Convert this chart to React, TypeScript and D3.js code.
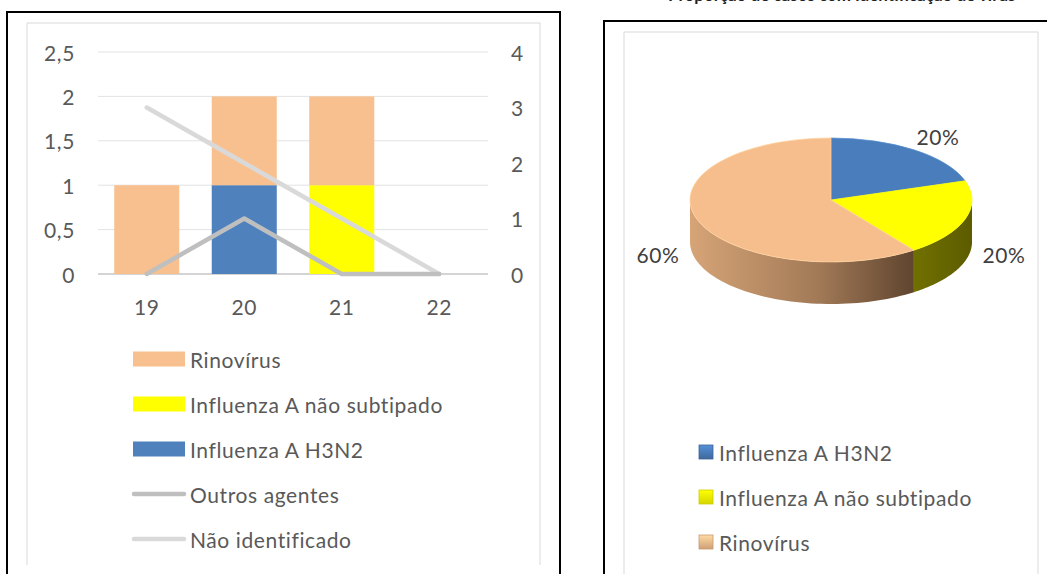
import React from 'react';
import * as d3 from 'd3';

const weeks = ['19', '20', '21', '22'];
const rinovirus = [1, 1, 1, 0];
const influenzaNaoSub = [0, 0, 1, 0];
const influenzaH3N2 = [0, 1, 0, 0];
const outrosAgentes = [0, 1, 0, 0];
const naoIdentificado = [3, 2, 1, 0];
const leftTicks = [0, 0.5, 1, 1.5, 2, 2.5];
const rightTicks = [0, 1, 2, 3, 4];

const pieLabels = ['Influenza A H3N2', 'Influenza A não subtipado', 'Rinovírus'];
const pieValues = [1, 1, 3];
const piePercents = ['20%', '20%', '60%'];

const barLegend = [
  { name: 'Rinovírus', kind: 'bar', color: '#f9c08f' },
  { name: 'Influenza A não subtipado', kind: 'bar', color: '#ffff00' },
  { name: 'Influenza A H3N2', kind: 'bar', color: '#4f81bd' },
  { name: 'Outros agentes', kind: 'line', color: '#bfbfbf' },
  { name: 'Não identificado', kind: 'line', color: '#d9d9d9' },
];

const FONT = 'Lato, "Open Sans", sans-serif';
const TXT = '#595959';
const FS = 21;
const LS = 0.6;

export default function App() {
  // ---------- left chart ----------
  const x = d3.scaleBand<string>().domain(weeks).range([98, 488]).paddingInner(0.333).paddingOuter(0.1665);
  const yL = d3.scaleLinear().domain([0, 2.5]).range([274, 52]);
  const yR = d3.scaleLinear().domain([0, 4]).range([274, 52]);

  const rows = weeks.map((w, i) => ({ week: w, h3n2: influenzaH3N2[i], naoSub: influenzaNaoSub[i], rino: rinovirus[i] }));
  const stack = d3.stack<any>().keys(['h3n2', 'naoSub', 'rino'])(rows);
  const stackColors: Record<string, string> = { h3n2: '#4f81bd', naoSub: '#ffff00', rino: '#f9c08f' };

  const cx = (w: string) => (x(w) as number) + x.bandwidth() / 2;
  const line = d3.line<number>().x((_, i) => cx(weeks[i])).y((d) => yR(d));

  const fmt = (v: number) => String(v).replace('.', ',');

  // ---------- pie ----------
  const pcx = 831, pcy = 200, rx = 141, ry = 62, depth = 42;
  const pie = d3.pie<number>().sort(null)(pieValues);
  const arc = d3.arc<any>().innerRadius(0).outerRadius(rx);
  const topColors = ['#4a7dbb', '#ffff00', '#f7be8d'];
  const sideFills = ['#2f4f78', 'url(#ySide)', 'url(#rSide)'];

  const sidePath = (a0: number, a1: number) => {
    const s = Math.max(a0, Math.PI / 2);
    const e = Math.min(a1, (3 * Math.PI) / 2);
    if (s >= e) return null;
    const n = 60;
    const angs = d3.range(n + 1).map((k) => s + ((e - s) * k) / n);
    const topPts = angs.map((a) => [pcx + rx * Math.sin(a), pcy - ry * Math.cos(a)] as [number, number]);
    const botPts = angs.slice().reverse().map((a) => [pcx + rx * Math.sin(a), pcy - ry * Math.cos(a) + depth] as [number, number]);
    return (d3.line()([...topPts, ...botPts]) as string) + 'Z';
  };

  const pieLabelPos = [
    [938, 136],
    [1004, 254],
    [658, 254],
  ];

  return (
    <svg width={1047} height={574} style={{ position: 'absolute', left: 0, top: 0, background: '#fff' }} fontFamily={FONT}>
      <defs>
        <linearGradient id="rSide" gradientUnits="userSpaceOnUse" x1={690} x2={922} y1={0} y2={0}>
          <stop offset="0" stopColor="#d6a477" />
          <stop offset="0.55" stopColor="#a27a57" />
          <stop offset="1" stopColor="#5a402c" />
        </linearGradient>
        <linearGradient id="ySide" gradientUnits="userSpaceOnUse" x1={914} x2={972} y1={0} y2={0}>
          <stop offset="0" stopColor="#707000" />
          <stop offset="1" stopColor="#5c5c00" />
        </linearGradient>
        {topColors.map((c, i) => (
          <linearGradient key={i} id={`sw${i}`} x1="0" x2="0" y1="0" y2="1">
            <stop offset="0" stopColor={d3.color(c)!.brighter(0.4).toString()} />
            <stop offset="1" stopColor={d3.color(c)!.darker(0.5).toString()} />
          </linearGradient>
        ))}
      </defs>
      <rect x={0} y={0} width={1047} height={574} fill="#fff" />

      {/* left frame */}
      <rect x={7} y={12} width={553} height={580} fill="none" stroke="#000" strokeWidth={2} />
      <path d="M27,565 V23 H540 V565" fill="none" stroke="#d9d9d9" strokeWidth={1} />

      {/* grid */}
      {leftTicks.map((t) => (
        <line key={t} x1={98} x2={488} y1={yL(t)} y2={yL(t)} stroke={t === 0 ? '#c6c6c6' : '#e3e3e3'} strokeWidth={t === 0 ? 1.5 : 1} />
      ))}
      {/* bars */}
      {stack.map((layer) =>
        layer.map((d, i) =>
          d[1] - d[0] > 0 ? (
            <rect key={layer.key + i} x={x(weeks[i])} width={x.bandwidth()} y={yL(d[1])} height={yL(d[0]) - yL(d[1])} fill={stackColors[layer.key]} />
          ) : null
        )
      )}
      {/* lines */}
      <path d={line(naoIdentificado) as string} fill="none" stroke="#d9d9d9" strokeWidth={4.5} strokeLinecap="round" strokeLinejoin="round" />
      <path d={line(outrosAgentes) as string} fill="none" stroke="#bfbfbf" strokeWidth={4.5} strokeLinecap="round" strokeLinejoin="round" />

      {/* axes labels */}
      {leftTicks.map((t) => (
        <text key={t} x={75} y={yL(t)} textAnchor="end" dominantBaseline="central" fontSize={FS} letterSpacing={LS} fill={TXT}>{fmt(t)}</text>
      ))}
      {rightTicks.map((t) => (
        <text key={t} x={511} y={yR(t)} textAnchor="start" dominantBaseline="central" fontSize={FS} letterSpacing={LS} fill={TXT}>{fmt(t)}</text>
      ))}
      {weeks.map((w) => (
        <text key={w} x={cx(w)} y={306} textAnchor="middle" dominantBaseline="central" fontSize={FS} letterSpacing={LS} fill={TXT}>{w}</text>
      ))}

      {/* left legend */}
      {barLegend.map((l, i) => {
        const yy = 359 + i * 45;
        return (
          <g key={l.name}>
            {l.kind === 'bar' ? (
              <rect x={133} y={yy - 7.5} width={52} height={15} fill={l.color} />
            ) : (
              <line x1={134} x2={184} y1={yy} y2={yy} stroke={l.color} strokeWidth={4.5} strokeLinecap="round" />
            )}
            <text x={190} y={yy} dominantBaseline="central" fontSize={FS} letterSpacing={LS} fill={TXT}>{l.name}</text>
          </g>
        );
      })}

      {/* right title (cut off) */}
      <text x={668} y={1} fontSize={17} fontWeight="bold" fill="#222">Proporção de casos com identificação de vírus</text>

      {/* right frame */}
      <path d="M604,580 V21 H1060" fill="none" stroke="#000" strokeWidth={2} />
      <path d="M624,580 V32 H1038 V580" fill="none" stroke="#d9d9d9" strokeWidth={1} />

      {/* 3D pie sides */}
      {pie.map((p, i) => {
        const d = sidePath(p.startAngle, p.endAngle);
        return d ? <path key={'s' + i} d={d} fill={sideFills[i]} /> : null;
      })}
      {/* top faces */}
      <g transform={`translate(${pcx},${pcy}) scale(1,${ry / rx})`}>
        {pie.map((p, i) => (
          <path key={'t' + i} d={arc(p) as string} fill={topColors[i]} stroke={d3.color(topColors[i])!.brighter(0.3).toString()} strokeWidth={1} />
        ))}
      </g>
      {piePercents.map((t, i) => (
        <text key={'p' + i} x={pieLabelPos[i][0]} y={pieLabelPos[i][1]} textAnchor="middle" dominantBaseline="central" fontSize={FS} letterSpacing={LS} fill="#404040">{t}</text>
      ))}

      {/* right legend */}
      {pieLabels.map((l, i) => {
        const yy = 452 + i * 45;
        return (
          <g key={l}>
            <rect x={699} y={yy - 7} width={14} height={14} fill={`url(#sw${i})`} stroke={d3.color(topColors[i])!.darker(0.6).toString()} strokeWidth={0.8} />
            <text x={719} y={yy} dominantBaseline="central" fontSize={FS} letterSpacing={LS} fill={TXT}>{l}</text>
          </g>
        );
      })}
    </svg>
  );
}
